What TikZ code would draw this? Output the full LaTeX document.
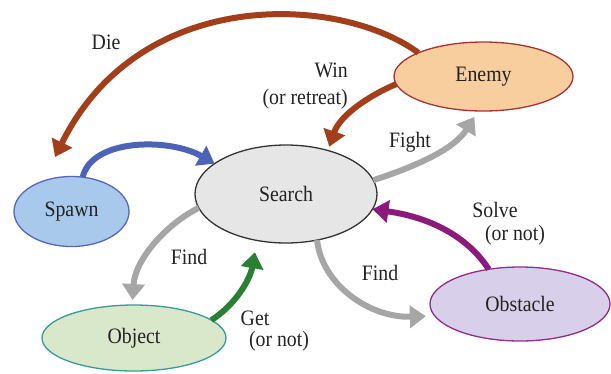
\documentclass[tikz,border=0pt]{standalone}
\usepackage{fontspec}
\setmainfont[FakeStretch=0.9]{Liberation Serif}
\usetikzlibrary{shapes.geometric,arrows.meta}
\definecolor{brownarr}{RGB}{163,62,27}
\definecolor{bluearr}{RGB}{77,99,184}
\definecolor{grayarr}{RGB}{166,166,166}
\definecolor{purplearr}{RGB}{139,26,122}
\definecolor{greenarr}{RGB}{40,128,50}
\definecolor{enemyfill}{RGB}{248,206,158}
\definecolor{enemydraw}{RGB}{168,50,50}
\definecolor{searchfill}{RGB}{230,230,230}
\definecolor{searchdraw}{RGB}{50,50,50}
\definecolor{spawnfill}{RGB}{169,201,236}
\definecolor{spawndraw}{RGB}{88,102,184}
\definecolor{objectfill}{RGB}{217,232,203}
\definecolor{objectdraw}{RGB}{58,154,154}
\definecolor{obstfill}{RGB}{216,208,234}
\definecolor{obstdraw}{RGB}{149,42,138}
\definecolor{txt}{RGB}{34,34,34}
\begin{document}
\begin{tikzpicture}[x=1pt,y=-1pt,
  state/.style={ellipse,draw,line width=1.3pt,inner sep=0pt,outer sep=0pt,text=txt,font=\fontsize{22}{24}\selectfont},
  lbl/.style={font=\fontsize{22}{24}\selectfont,inner sep=0pt,text=txt},
  flow/.style={line width=6pt,-{Triangle[length=16pt,width=22pt]}},
]
\useasboundingbox (0,0) rectangle (611,373);
\node[state,fill=enemyfill,draw=enemydraw,minimum width=179pt,minimum height=69pt] (enemy) at (483.5,76.5) {Enemy};
\node[state,fill=searchfill,draw=searchdraw,minimum width=182pt,minimum height=98pt] (search) at (286,194) {Search};
\node[state,fill=spawnfill,draw=spawndraw,minimum width=115pt,minimum height=70pt] (spawn) at (71.5,211.5) {Spawn};
\node[state,fill=objectfill,draw=objectdraw,minimum width=184pt,minimum height=66pt] (object) at (134,338) {Object};
\node[state,fill=obstfill,draw=obstdraw,minimum width=180pt,minimum height=74pt] (obstacle) at (520,304) {Obstacle};

\coordinate (dietip) at (55,157);
\draw[flow,brownarr] (enemy.160) .. controls (340,-5) and (140,-15) .. (dietip);
\draw[flow,brownarr,shorten >=4pt] (enemy.185) .. controls (370,95) and (340,115) .. (search.46);
\draw[flow,bluearr] (spawn.72) .. controls (92,138) and (170,138) .. (search.157);
\draw[flow,grayarr,shorten >=7pt] (search.9) .. controls (420,165) and (455,148) .. (enemy.261);
\draw[flow,purplearr] (obstacle.132) .. controls (470,240) and (435,218) .. (search.-10);
\draw[flow,grayarr,shorten >=9pt] (search.-56) .. controls (322,285) and (370,318) .. (obstacle.188);
\draw[flow,grayarr,shorten >=5pt] (search.189) .. controls (165,225) and (135,260) .. (object.93);
\draw[flow,greenarr,shorten >=12pt] (object.13) .. controls (235,305) and (250,280) .. (search.-122);

\node[lbl] (die) at (106,42) {Die};
\node[lbl,anchor=east] (win) at (348,70) {Win};
\node[lbl,anchor=east] (retreat) at (348,99) {(or retreat)};
\node[lbl] (fight) at (410,142) {Fight};
\node[lbl] (solve) at (495,210) {Solve};
\node[lbl] (solvenot) at (515,235) {(or not)};
\node[lbl] (findl) at (189,257) {Find};
\node[lbl] (findr) at (380,273) {Find};
\node[lbl] (get) at (255,318) {Get};
\node[lbl] (getnot) at (279,341) {(or not)};
\end{tikzpicture}
\end{document}
